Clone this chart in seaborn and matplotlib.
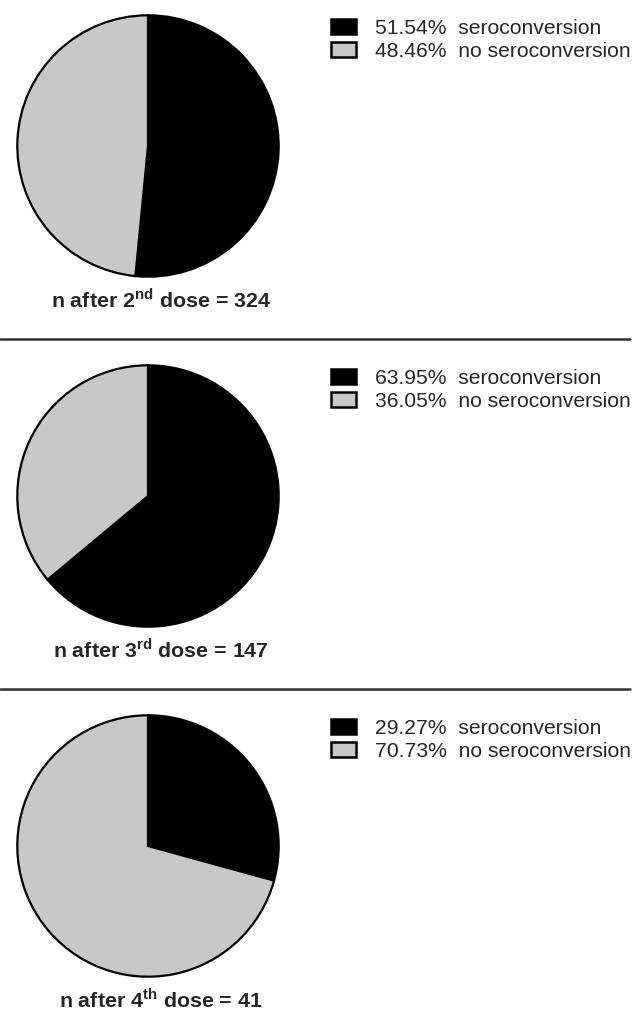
import matplotlib
matplotlib.use("Agg")
import matplotlib.pyplot as plt
from matplotlib.lines import Line2D
import seaborn as sns

# ---- data ----
doses = [2, 3, 4]
ordinals = ["nd", "rd", "th"]
n_values = [324, 147, 41]
sero_pct = [51.54, 63.95, 29.27]
no_sero_pct = [48.46, 36.05, 70.73]
categories = ["seroconversion", "no seroconversion"]
colors = ["#000000", "#c8c8c8"]

sns.set_theme(style="white")
plt.rcParams["font.family"] = ["Liberation Sans", "DejaVu Sans"]
plt.rcParams["mathtext.fontset"] = "custom"
plt.rcParams["mathtext.rm"] = "Liberation Sans"
plt.rcParams["mathtext.bf"] = "Liberation Sans:bold"

W, H = 634, 1013
fig = plt.figure(figsize=(W / 100, H / 100), dpi=100)
fig.patch.set_facecolor("white")

def fx(px):
    return px / W

def fy(py):
    return 1 - py / H

panel_off = 350  # vertical offset between panels (px)
R = 132
cx, cy0 = 148, 146

for i in range(3):
    cy = cy0 + i * panel_off
    ax = fig.add_axes([fx(cx - R), fy(cy + R), 2 * R / W, 2 * R / H])
    vals = [sero_pct[i], no_sero_pct[i]]
    wedges, _ = ax.pie(vals, colors=colors, startangle=90, counterclock=False,
                       radius=1.0,
                       wedgeprops=dict(edgecolor="black", linewidth=1.6))
    ax.set_xlim(-1.01, 1.01)
    ax.set_ylim(-1.01, 1.01)
    ax.set_aspect("equal")
    ax.axis("off")

    labels = [f"{v:.2f}%  {c}" for v, c in zip(vals, categories)]
    leg = fig.legend(wedges, labels, loc="upper left",
                     bbox_to_anchor=(fx(331), fy(19 + i * panel_off)),
                     frameon=False, fontsize=15.2, handlelength=1.2,
                     handleheight=0.72, handletextpad=0.9, labelspacing=0.17,
                     borderpad=0, borderaxespad=0)
    for h in leg.legend_handles:
        h.set_edgecolor("black")
        h.set_linewidth(1.8)

    fig.text(fx(161), fy(300 + i * panel_off),
             rf"n after {doses[i]}$^{{\mathbf{{{ordinals[i]}}}}}$ dose = {n_values[i]}",
             ha="center", va="center", fontsize=15.4, fontweight="bold")

    if i < 2:
        yl = fy(339 + i * panel_off)
        fig.add_artist(Line2D([0, fx(630)], [yl, yl], color="#333333", linewidth=1.8))

fig.savefig("out.png", dpi=100, facecolor="white")
